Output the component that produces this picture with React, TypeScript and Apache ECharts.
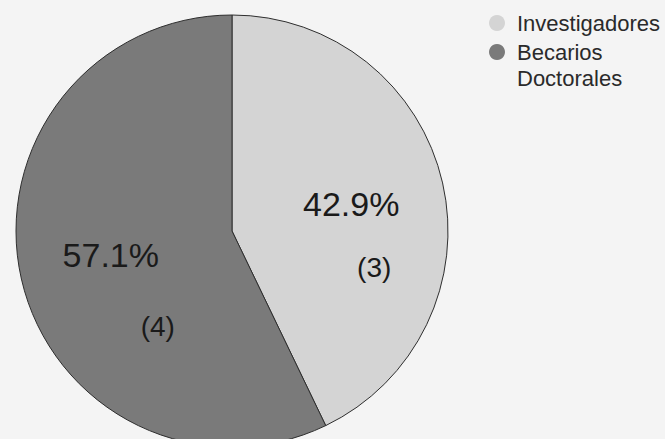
import React, { useEffect, useRef } from "react";
import * as echarts from "echarts";

const categories = ["Investigadores", "Becarios Doctorales"];
const values = [3, 4];
const colors = ["#d4d4d4", "#7a7a7a"];

// label layout styles per slice (by index)
const labelRich = [
  {
    p: { fontSize: 34, lineHeight: 122, padding: [0, 0, 0, 22], color: "#1a1a1a", fontFamily: "Liberation Sans, Arial, sans-serif" },
    c: { fontSize: 28, lineHeight: 4, padding: [0, 0, 0, 68], color: "#1a1a1a", fontFamily: "Liberation Sans, Arial, sans-serif" },
  },
  {
    p: { fontSize: 34, lineHeight: 142, padding: [0, 26, 0, 0], color: "#1a1a1a", fontFamily: "Liberation Sans, Arial, sans-serif" },
    c: { fontSize: 28, lineHeight: 2, padding: [0, 0, 0, 68], color: "#1a1a1a", fontFamily: "Liberation Sans, Arial, sans-serif" },
  },
];

export default function App() {
  const ref = useRef<HTMLDivElement>(null);
  useEffect(() => {
    document.body.style.margin = "0";
    const chart = echarts.init(ref.current!, undefined, { renderer: "svg" });
    const legendText = {
      fontSize: 22,
      lineHeight: 26,
      color: "#2a2a2a",
      fontFamily: "Liberation Sans, Arial, sans-serif",
    };
    chart.setOption({
      animation: false,
      backgroundColor: "#f4f4f4",
      color: colors,
      legend: [
        {
          data: [categories[0]],
          orient: "vertical",
          left: 489,
          top: 10,
          padding: 0,
          icon: "circle",
          itemWidth: 16,
          itemHeight: 16,
          itemGap: 0,
          itemStyle: { borderWidth: 0 },
          textStyle: { ...legendText, padding: [0, 0, 0, 7] },
          selectedMode: false,
        },
        {
          data: [categories[1]],
          orient: "vertical",
          left: 489,
          top: 13,
          padding: 0,
          icon: "circle",
          itemWidth: 16,
          itemHeight: 16,
          itemGap: 0,
          itemStyle: { borderWidth: 0 },
          textStyle: { ...legendText, padding: [0, 0, 0, 7] },
          selectedMode: false,
          formatter: (name: string) => "\n" + name.replace(" ", "\n"),
        },
      ],
      series: [
        {
          type: "pie",
          center: [232, 231],
          radius: 216,
          startAngle: 90,
          clockwise: true,
          percentPrecision: 1,
          avoidLabelOverlap: false,
          itemStyle: { borderColor: "#2e2e2e", borderWidth: 1 },
          emphasis: { disabled: true },
          labelLine: { show: false },
          data: categories.map((name, i) => ({
            name,
            value: values[i],
            label: {
              show: true,
              position: "inside",
              formatter: "{p|{d}%}\n{c|({c})}",
              rich: labelRich[i],
            },
          })),
        },
      ],
    });
    return () => chart.dispose();
  }, []);
  return (
    <div
      ref={ref}
      style={{ width: 665, height: 439, position: "absolute", left: 0, top: 0 }}
    />
  );
}
